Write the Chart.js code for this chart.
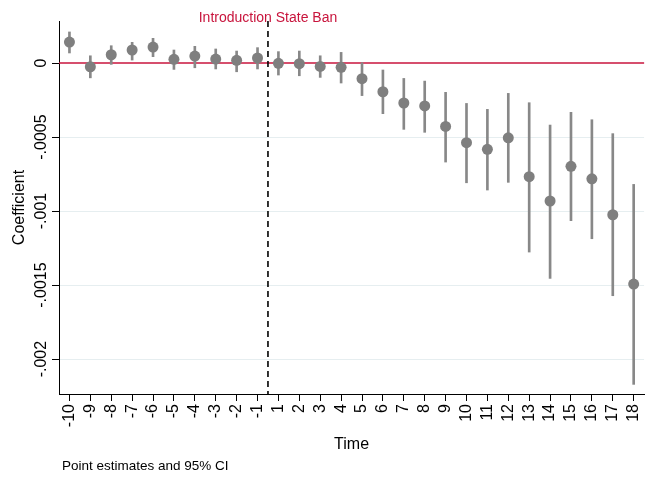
<!DOCTYPE html>
<html>
<head>
<meta charset="utf-8">
<script src="https://cdn.jsdelivr.net/npm/chart.js@4/dist/chart.umd.min.js"></script>
<style>
  html, body { margin: 0; padding: 0; background: #ffffff; }
  #wrap { width: 656px; height: 479px; position: relative; }
</style>
</head>
<body>
<div id="wrap"><canvas id="c" width="656" height="479"></canvas></div>
<script>
// ---- Data ----
const periods = ['-10','-9','-8','-7','-6','-5','-4','-3','-2','-1','1','2','3','4','5','6','7','8','9','10','11','12','13','14','15','16','17','18'];
const coef = [0.000142, -0.000025, 0.000056, 0.000088, 0.000108, 0.000025, 0.000047, 0.000027, 0.000018, 0.000034,
              -0.000002, -0.000004, -0.000023, -0.000029, -0.000106, -0.000194, -0.000270, -0.000290, -0.000428, -0.000538,
              -0.000583, -0.000505, -0.000768, -0.000932, -0.000698, -0.000782, -0.001025, -0.001493];
const ciLow = [0.000068, -0.000100, -0.000009, 0.000020, 0.000043, -0.000043, -0.000032, -0.000040, -0.000059, -0.000040,
               -0.000081, -0.000086, -0.000097, -0.000135, -0.000220, -0.000342, -0.000448, -0.000468, -0.000669, -0.000809,
               -0.000858, -0.000806, -0.001277, -0.001455, -0.001065, -0.001187, -0.001572, -0.002171];
const ciHigh = [0.000210, 0.000049, 0.000117, 0.000140, 0.000167, 0.000088, 0.000113, 0.000095, 0.000081, 0.000104,
                0.000077, 0.000081, 0.000049, 0.000072, 0.000002, -0.000047, -0.000104, -0.000122, -0.000198, -0.000273,
                -0.000313, -0.000205, -0.000268, -0.000419, -0.000333, -0.000383, -0.000477, -0.000820];
const yTickValues = [0, -0.0005, -0.001, -0.0015, -0.002];
const yTickLabels = ['0', '-.0005', '-.001', '-.0015', '-.002'];
const eventPosition = 9.5; // between -1 and 1
const eventLabel = 'Introduction State Ban';
const xTitle = 'Time';
const yTitle = 'Coefficient';
const noteText = 'Point estimates and 95% CI';

const FONT = '"Liberation Sans", Arial, Helvetica, sans-serif';
const GRAY = '#7f7f7f';
const BARGRAY = '#888888';
const RED = '#c8143c';

const ciBars = periods.map((p, i) => [ciLow[i], ciHigh[i]]);

const decorPlugin = {
  id: 'decor',
  beforeDatasetsDraw(chart) {
    const { ctx, chartArea, scales } = chart;
    const x = scales.x, y = scales.y;
    ctx.save();
    const y0 = y.getPixelForValue(0);
    ctx.strokeStyle = RED;
    ctx.lineWidth = 1.5;
    ctx.beginPath();
    ctx.moveTo(chartArea.left, y0);
    ctx.lineTo(chartArea.right, y0);
    ctx.stroke();
    const xe = x.getPixelForValue(eventPosition);
    ctx.strokeStyle = '#000000';
    ctx.lineWidth = 1.6;
    ctx.setLineDash([6, 4]);
    ctx.beginPath();
    ctx.moveTo(xe, chartArea.top);
    ctx.lineTo(xe, chartArea.bottom);
    ctx.stroke();
    ctx.restore();
  },
  afterDraw(chart) {
    const { ctx, chartArea, scales } = chart;
    const x = scales.x, y = scales.y;
    ctx.save();
    ctx.fillStyle = '#000000';
    ctx.font = '16px ' + FONT;
    ctx.textAlign = 'center';
    ctx.textBaseline = 'middle';
    yTickValues.forEach((v, i) => {
      ctx.save();
      ctx.translate(42, y.getPixelForValue(v));
      ctx.rotate(-Math.PI / 2);
      ctx.fillText(yTickLabels[i], 0, 0);
      ctx.restore();
    });
    ctx.font = '16px ' + FONT;
    ctx.save();
    ctx.translate(20, (chartArea.top + chartArea.bottom) / 2);
    ctx.rotate(-Math.PI / 2);
    ctx.fillText(yTitle, 0, 0);
    ctx.restore();
    ctx.fillText(xTitle, (chartArea.left + chartArea.right) / 2, 445);
    ctx.fillStyle = RED;
    ctx.font = '14px ' + FONT;
    ctx.fillText(eventLabel, x.getPixelForValue(eventPosition), 18);
    ctx.fillStyle = '#000000';
    ctx.font = '13.5px ' + FONT;
    ctx.textAlign = 'left';
    ctx.fillText(noteText, 62, 466);
    ctx.restore();
  }
};

new Chart(document.getElementById('c'), {
  type: 'bar',
  data: {
    labels: periods,
    datasets: [
      {
        type: 'line',
        label: 'Point estimate',
        data: coef,
        showLine: false,
        pointRadius: 5.5,
        pointHoverRadius: 5.5,
        pointBackgroundColor: GRAY,
        pointBorderWidth: 0,
        borderColor: GRAY
      },
      {
        type: 'bar',
        label: '95% CI',
        data: ciBars,
        backgroundColor: BARGRAY,
        borderWidth: 0,
        barThickness: 2
      }
    ]
  },
  options: {
    responsive: false,
    animation: false,
    devicePixelRatio: 1,
    layout: { padding: { top: 21, right: 7, left: 0, bottom: 0 } },
    plugins: { legend: { display: false }, tooltip: { enabled: false } },
    scales: {
      x: {
        type: 'category',
        offset: true,
        grid: { offset: false, drawOnChartArea: false, drawTicks: true, tickLength: 7, tickColor: '#000000' },
        border: { display: true, color: '#000000', width: 1 },
        ticks: {
          autoSkip: false, minRotation: 90, maxRotation: 90, padding: 3,
          color: '#000000', font: { family: FONT, size: 16 }
        },
        afterFit(scale) { scale.height = 85; }
      },
      y: {
        min: -0.002236,
        max: 0.000284,
        afterBuildTicks(scale) { scale.ticks = yTickValues.map(v => ({ value: v })); },
        grid: {
          color: (c) => (c.tick && c.tick.value === 0 ? 'rgba(0,0,0,0)' : '#e6eef0'),
          lineWidth: 1,
          drawTicks: true, tickLength: 7, tickColor: '#000000'
        },
        border: { display: true, color: '#000000', width: 1 },
        ticks: { display: false },
        afterFit(scale) { scale.width = 59; }
      }
    }
  },
  plugins: [decorPlugin]
});
</script>
</body>
</html>
